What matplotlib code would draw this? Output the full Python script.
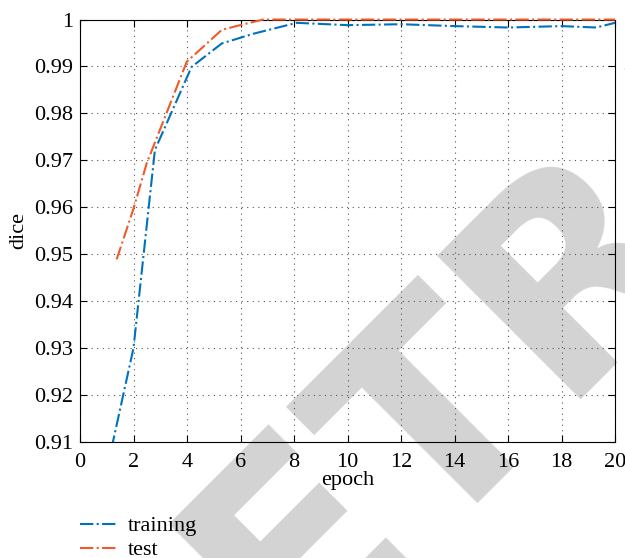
import matplotlib
matplotlib.use('Agg')
import matplotlib.pyplot as plt

# Data
train_epoch = [1.0, 2.0, 2.8, 4.17, 5.3, 6.5, 8.1, 10, 12, 14, 16, 18, 19.3, 20]
train_dice = [0.904, 0.930, 0.9722, 0.9899, 0.9949, 0.9970, 0.9993, 0.9988,
              0.9990, 0.9986, 0.9983, 0.9986, 0.9983, 0.9993]
test_epoch = [1.37, 2.0, 2.49, 3.99, 5.3, 5.98, 6.85, 8, 10, 12, 14, 16, 18, 20]
test_dice = [0.9489, 0.9597, 0.9693, 0.9910, 0.9978, 0.9988, 1.0, 1.0,
             1.0, 1.0, 1.0, 1.0, 1.0, 1.0]

xticks = list(range(0, 21, 2))
yticks = [0.91, 0.92, 0.93, 0.94, 0.95, 0.96, 0.97, 0.98, 0.99, 1.0]
ytick_labels = ['0.91', '0.92', '0.93', '0.94', '0.95', '0.96', '0.97', '0.98', '0.99', '1']

plt.rcParams['font.family'] = ['Liberation Serif', 'DejaVu Serif']

fig = plt.figure(figsize=(6.25, 5.58), dpi=100)

# watermark behind the plot
fig.text(1.17, 0.795, 'RETRACTED', rotation=45, fontsize=200, fontweight='bold',
         family='DejaVu Sans', color='#d3d3d3', ha='center', va='center', zorder=-1)

ax = fig.add_axes([0.128, 0.208, 0.856, 0.757])
ax.set_facecolor('none')

ax.plot(train_epoch, train_dice, linestyle='-.', color='#0072BD', lw=1.5, label='training')
# test curve sits on the top border, so don't clip it
ax.plot(test_epoch, test_dice, linestyle='-.', color='#F05A28', lw=1.5, label='test',
        clip_on=False, zorder=3)

ax.set_xlim(0, 20)
ax.set_ylim(0.91, 1.0)
ax.set_xticks(xticks)
ax.set_yticks(yticks)
ax.set_yticklabels(ytick_labels)
ax.tick_params(direction='in', top=True, right=True, labelsize=16, length=5)
ax.tick_params(axis='x', pad=8)
ax.tick_params(axis='y', pad=5)
ax.grid(True, linestyle=(0, (1, 4)), color='#555555', lw=0.8)
ax.set_xlabel('epoch', fontsize=16, labelpad=-1)
ax.set_ylabel('dice', fontsize=16, labelpad=4)

ax.legend(loc='upper left', bbox_to_anchor=(-0.016, -0.154), frameon=False,
          fontsize=16, handlelength=1.6, labelspacing=0.15, borderaxespad=0,
          handletextpad=0.55)

fig.savefig('out.png', dpi=100)
